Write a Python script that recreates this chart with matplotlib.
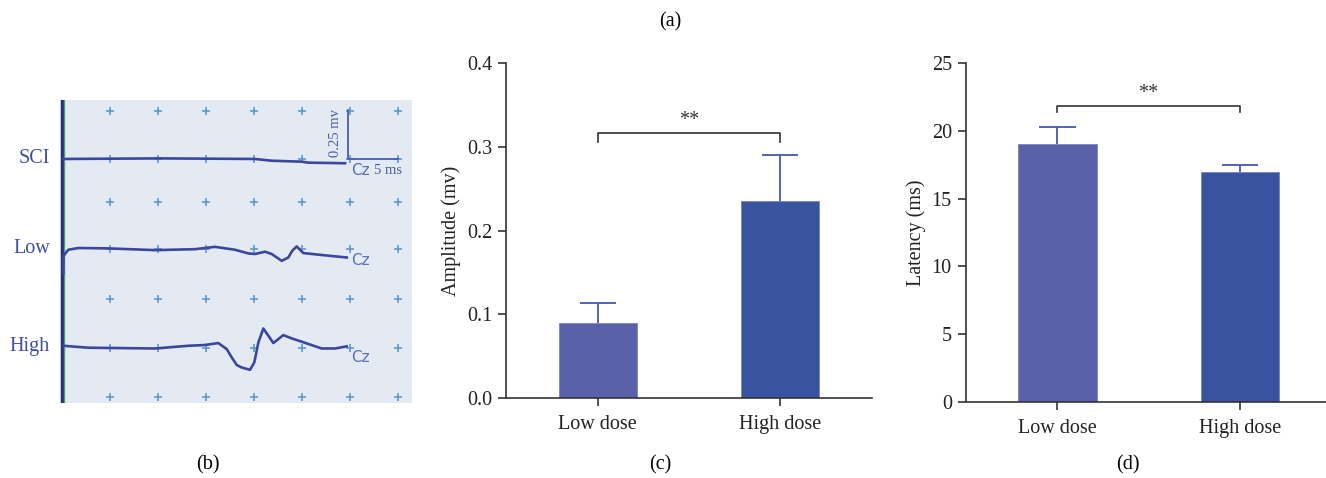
import numpy as np
import matplotlib
matplotlib.use('Agg')
import matplotlib.pyplot as plt

plt.rcParams['font.family'] = ['Liberation Serif', 'DejaVu Serif']

# ---- (b) evoked potential traces: time (ms), amplitude (mv) relative to baseline
sci_t = [0.14, 10.2, 20.08, 21.82, 24.94, 25.63, 29.45]
sci_a = [0.0, 0.003, 0.0, -0.009, -0.014, -0.019, -0.022]

low_t = [0.14, 0.15, 0.66, 1.70, 4.82, 9.68, 13.84, 15.92, 18.00, 19.39, 20.08,
         21.12, 21.82, 22.86, 23.55, 23.96, 24.42, 25.11, 27.02, 29.63]
low_a = [-0.129, -0.036, -0.005, 0.004, 0.002, -0.007, -0.002, 0.010, -0.005, -0.024,
         -0.027, -0.015, -0.027, -0.062, -0.045, -0.010, 0.012, -0.022, -0.032, -0.045]

high_t = [0.14, 2.74, 9.68, 13.14, 14.88, 16.26, 17.14, 17.66, 18.18, 18.70, 19.56,
          20.01, 20.43, 20.95, 21.47, 21.99, 23.03, 23.90, 24.94, 27.02, 28.41, 29.63]
high_a = [0.005, -0.005, -0.009, 0.005, 0.009, 0.019, -0.012, -0.055, -0.094, -0.107,
          -0.119, -0.081, 0.022, 0.094, 0.057, 0.019, 0.060, 0.043, 0.026, -0.009,
          -0.009, 0.002]

trace_names = ['SCI', 'Low', 'High']
baselines = [1.258, 0.795, 0.290]
grid_t = [5, 10, 15, 20, 25, 30, 35]
grid_v = [1.507, 1.258, 1.035, 0.793, 0.536, 0.285, 0.032]

# ---- (c) amplitude, (d) latency
groups = ['Low dose', 'High dose']
amp = [0.090, 0.236]
amp_err = [0.024, 0.054]
lat = [19.05, 16.95]
lat_err = [1.25, 0.55]

bar_cols = ['#5961a9', '#3a53a1']
err_col = '#4658b0'
trace_col = '#3b479e'
text_blue = '#3e4fa0'
cz_col = '#5a6ec2'
dark = '#333333'

W, H = 1326, 478
fig = plt.figure(figsize=(W / 100, H / 100), dpi=100)

# ---------------- panel (b)
axb = fig.add_axes([60 / W, (H - 403) / H, 352 / W, 303 / H])
axb.set_facecolor('#e3eaf2')
axb.set_xlim(-0.21, 36.42)
axb.set_ylim(0, 1.562)
axb.set_xticks([])
axb.set_yticks([])
for s in axb.spines.values():
    s.set_visible(False)

gx, gy = np.meshgrid(grid_t, grid_v)
axb.plot(gx.ravel(), gy.ravel(), '+', color='#5a9ad0', ms=6, mew=1.2, zorder=1)

axb.axvline(0, color='#25307e', lw=2.4, zorder=3)
axb.axvline(0.22, color='#4fa35a', lw=1.0, zorder=3)

for name, base, t, a in zip(trace_names, baselines,
                            [sci_t, low_t, high_t], [sci_a, low_a, high_a]):
    axb.plot(t, np.array(a) + base, color=trace_col, lw=1.9, zorder=4)
    axb.text(-1.25, base, name, ha='right', va='center', fontsize=14.5,
             color=text_blue, clip_on=False)
    axb.text(30.1, base - 0.058, 'Cz', ha='left', va='center', fontsize=11,
             color=cz_col, family=['DejaVu Sans'])

# scale bar
axb.plot([29.8, 29.8, 35], [baselines[0] + 0.25, baselines[0], baselines[0]],
         color='#4a5cb5', lw=1.3, zorder=4)
axb.text(28.5, baselines[0] + 0.135, '0.25 mv', rotation=90, ha='center',
         va='center', fontsize=10.5, color='#4a5aa8')
axb.text(32.5, baselines[0] - 0.062, '5 ms', ha='left', va='center',
         fontsize=10.5, color='#4a5aa8')

# ---------------- bar panels
def bar_panel(rect, vals, errs, ylim, yticks, yfmt, ylabel, xlim, brk, star_y):
    ax = fig.add_axes(rect)
    x = np.arange(len(vals))
    ax.bar(x, vals, width=0.43, color=bar_cols, edgecolor='#7883c6', lw=0.6, zorder=2)
    tops = np.array(vals) + np.array(errs)
    ax.vlines(x, vals, tops, color=err_col, lw=1.3, zorder=1)
    ax.hlines(tops, x - 0.1, x + 0.1, color=err_col, lw=1.3, zorder=1)
    ax.plot([0, 0, 1, 1], [brk[0], brk[1], brk[1], brk[0]], color=dark, lw=1.2)
    ax.text(0.5, star_y, '**', ha='center', va='center', fontsize=14.5, color=dark)
    ax.set_xlim(*xlim)
    ax.set_ylim(*ylim)
    ax.set_yticks(yticks)
    ax.set_yticklabels([yfmt.format(v) for v in yticks])
    ax.set_xticks(x)
    ax.set_xticklabels(groups)
    for s in ['top', 'right']:
        ax.spines[s].set_visible(False)
    for s in ['left', 'bottom']:
        ax.spines[s].set_color(dark)
        ax.spines[s].set_linewidth(1.2)
    ax.tick_params(direction='out', length=6, width=1.2, color=dark,
                   labelsize=14.5, labelcolor='#222222')
    ax.tick_params(axis='y', pad=4)
    ax.tick_params(axis='x', pad=6)
    ax.set_ylabel(ylabel, fontsize=14.5, color='#222222', labelpad=4)
    return ax

bar_panel([506 / W, (H - 398) / H, 366 / W, 334.7 / H], amp, amp_err,
          (0, 0.4), [0.0, 0.1, 0.2, 0.3, 0.4], '{:.1f}', 'Amplitude (mv)',
          (-0.503, 1.503), (0.306, 0.317), 0.332)
bar_panel([965.7 / W, (H - 402.3) / H, 360.3 / W, 339.6 / H], lat, lat_err,
          (0, 25), [0, 5, 10, 15, 20, 25], '{:d}', 'Latency (ms)',
          (-0.503, 1.473), (21.4, 21.8), 22.7)

fig.text(670 / W, 1 - 22 / H, '(a)', ha='center', va='center', fontsize=14.5)
fig.text(208 / W, 1 - 465 / H, '(b)', ha='center', va='center', fontsize=14.5)
fig.text(660 / W, 1 - 465 / H, '(c)', ha='center', va='center', fontsize=14.5)
fig.text(1128 / W, 1 - 465 / H, '(d)', ha='center', va='center', fontsize=14.5)

fig.savefig('out.png', dpi=100)
